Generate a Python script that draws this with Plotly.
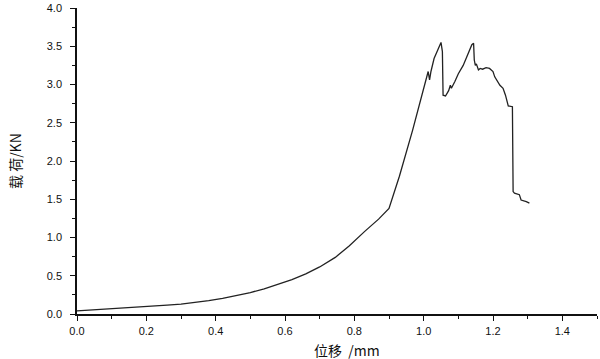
import plotly.graph_objects as go

displacement_mm = [0.000, 0.100, 0.200, 0.260, 0.300, 0.340, 0.380, 0.420, 0.460, 0.500, 0.540,
                   0.580, 0.620, 0.660, 0.700, 0.745, 0.785, 0.830, 0.870, 0.900, 0.910,
                   0.930, 0.968, 0.985,
                   1.005, 1.010, 1.013, 1.017, 1.021, 1.030, 1.037, 1.043, 1.050, 1.054,
                   1.056, 1.063, 1.072, 1.077, 1.080, 1.090, 1.100, 1.114, 1.129, 1.139,
                   1.144, 1.146, 1.149, 1.152, 1.158, 1.163, 1.170, 1.180, 1.190, 1.200,
                   1.205, 1.220, 1.229, 1.236, 1.244, 1.256, 1.258, 1.262, 1.276, 1.281,
                   1.296, 1.305]
load_kn = [0.040, 0.066, 0.096, 0.115, 0.130, 0.150, 0.175, 0.205, 0.240, 0.280, 0.330,
           0.385, 0.450, 0.525, 0.615, 0.740, 0.890, 1.080, 1.240, 1.380, 1.520,
           1.800, 2.400, 2.680,
           3.020, 3.100, 3.170, 3.060, 3.170, 3.340, 3.410, 3.470, 3.550, 3.430,
           2.860, 2.850, 2.920, 2.990, 2.950, 3.040, 3.140, 3.250, 3.410, 3.520,
           3.540, 3.320, 3.250, 3.270, 3.190, 3.210, 3.200, 3.220, 3.210, 3.170,
           3.100, 2.990, 2.950, 2.860, 2.720, 2.710, 1.600, 1.580, 1.560, 1.490,
           1.470, 1.450]

fig = go.Figure()
fig.add_trace(go.Scatter(x=displacement_mm, y=load_kn, mode="lines",
                         line=dict(color="#222222", width=1.3), showlegend=False))

axis_font = dict(family="Liberation Sans, Arial", size=11, color="#111111")
common = dict(showgrid=False, zeroline=False, showline=True, linecolor="#111111", linewidth=1.5,
              ticks="outside", ticklen=5, tickwidth=1.2, tickcolor="#111111",
              tickfont=axis_font, automargin=False, tickformat=".1f", tick0=0)
fig.update_xaxes(range=[0, 1.5], dtick=0.2, ticklabelstandoff=1,
                 minor=dict(dtick=0.1, ticks="outside", ticklen=3, tickwidth=1, tickcolor="#111111"),
                 **common)
fig.update_yaxes(range=[0, 4.0], dtick=0.5, ticklabelstandoff=6,
                 minor=dict(dtick=0.25, ticks="outside", ticklen=3, tickwidth=1, tickcolor="#111111"),
                 **common)

title_font = dict(family="Noto Sans CJK SC", size=14, color="#111111")
fig.add_annotation(text="位移  /mm", xref="paper", yref="paper", x=0.52, y=0, yshift=-36,
                   xanchor="center", yanchor="middle", showarrow=False, font=title_font)
fig.add_annotation(text="载 荷/KN", xref="paper", yref="paper", x=0, xshift=-62, y=0.5,
                   xanchor="center", yanchor="middle", showarrow=False, textangle=-90, font=title_font)

fig.update_layout(width=600, height=359, margin=dict(l=77, r=3, t=8, b=45),
                  plot_bgcolor="white", paper_bgcolor="white")
fig.write_html("out.html", config={"displayModeBar": False},
               post_script="document.body.style.margin='0';")
